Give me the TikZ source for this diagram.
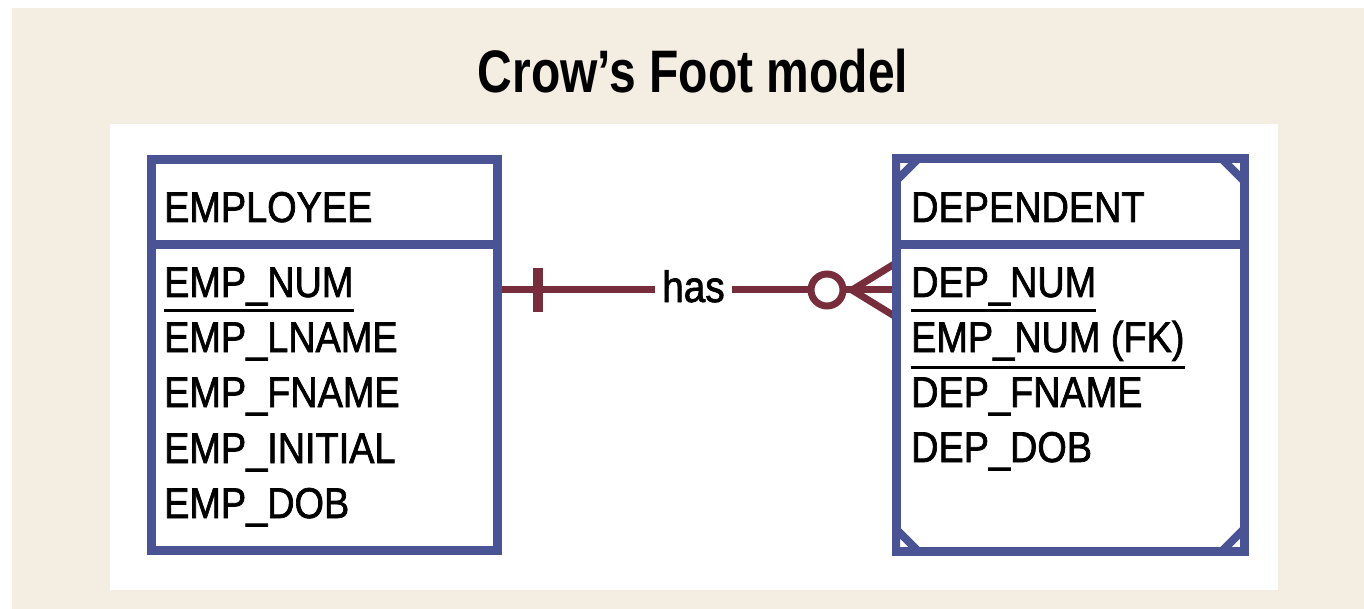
\documentclass[tikz,border=0pt]{standalone}
\usepackage{fontspec}
\setmainfont{Liberation Sans}
\newfontfamily\attrfont{Liberation Sans}[FakeStretch=0.88,FakeBold=1.6]
\newfontfamily\titlefont{Liberation Sans}[FakeStretch=0.8]
\usetikzlibrary{calc}
\definecolor{bgbeige}{HTML}{F4EDE2}
\definecolor{entblue}{HTML}{4A5494}
\definecolor{relred}{HTML}{782D3C}
\begin{document}
\begin{tikzpicture}[x=1pt,y=-1pt,
  entity/.style={draw=entblue, line width=9pt, fill=white, inner sep=0pt, outer sep=0pt},
  divider/.style={draw=entblue, line width=9pt},
  attr/.style={anchor=base west, inner sep=0pt, font=\attrfont\fontsize{43}{43}\selectfont, text=black},
  ul/.style={line width=3pt, black},
  rel/.style={draw=relred, line width=7pt},
  weakcorner/.style={draw=entblue, line width=8pt, fill=white, line join=bevel}
]
\useasboundingbox (0,0) rectangle (1364,609);
\fill[bgbeige] (12,8) rectangle (1364,609);
\fill[white] (110,124) rectangle (1278,590);
\node[font=\titlefont\bfseries\fontsize{60}{60}\selectfont, anchor=base, inner sep=0pt] (title) at (693,93) {Crow’s Foot model};

% relationship label
\node[font=\attrfont\fontsize{44}{44}\selectfont, inner xsep=7pt, inner ysep=0pt, text height=30pt, text depth=6pt, anchor=base] (has) at (693.5,302) {has};

% entity boxes
\node[entity, minimum width=346pt, minimum height=390pt] (emp) at (324,355) {};
\node[entity, minimum width=348pt, minimum height=392pt] (dep) at (1070,355) {};

% connectors
\draw[rel] (emp.east |- has.west) -- (has.west);
\draw[rel] (has.east) -- (dep.west |- has.east);
\coordinate (bar) at (538,290);
\draw[relred, line width=10pt] ($(bar)+(0,-22)$) -- ($(bar)+(0,22)$);
\node[circle, draw=relred, line width=7pt, fill=white, minimum size=32pt, inner sep=0pt] (opt) at (827,290) {};
\coordinate (foot) at (852,290);
\draw[rel] (foot) -- ($(dep.west |- has.east)+(0,-27)$);
\draw[rel] (foot) -- ($(dep.west |- has.east)+(0,27)$);

% redraw box borders on top
\draw[entblue, line width=9pt] (emp.north west) rectangle (emp.south east);
\draw[entblue, line width=9pt] (dep.north west) rectangle (dep.south east);
\coordinate (div) at (0,245);
\draw[divider] (emp.west |- div) -- (emp.east |- div);
\draw[divider] (dep.west |- div) -- (dep.east |- div);

% weak entity corners
\draw[weakcorner] (dep.north west) -- ++(22,0) -- ++(-22,22) -- cycle;
\draw[weakcorner] (dep.north east) -- ++(-22,0) -- ++(22,22) -- cycle;
\draw[weakcorner] (dep.south west) -- ++(22,0) -- ++(-22,-22) -- cycle;
\draw[weakcorner] (dep.south east) -- ++(-22,0) -- ++(22,-22) -- cycle;

% EMPLOYEE texts
\node[attr] (empname) at (164,222) {EMPLOYEE};
\node[attr] (empnum) at (164,297) {EMP\_NUM};
\node[attr] (emplname) at (164,352) {EMP\_LNAME};
\node[attr] (empfname) at (164,407) {EMP\_FNAME};
\node[attr] (empinit) at (164,463) {EMP\_INITIAL};
\node[attr] (empdob) at (164,518) {EMP\_DOB};
\draw[ul] ([yshift=-14pt]empnum.base west) -- ([yshift=-14pt]empnum.base east);

% DEPENDENT texts
\node[attr] (depname) at (911,222) {DEPENDENT};
\node[attr] (depnum) at (911,297) {DEP\_NUM};
\node[attr] (depemp) at (911,352) {EMP\_NUM (FK)};
\node[attr] (depfname) at (911,407) {DEP\_FNAME};
\node[attr] (depdob) at (911,462) {DEP\_DOB};
\draw[ul] ([yshift=-14pt]depnum.base west) -- ([yshift=-14pt]depnum.base east);
\draw[ul] ([yshift=-15pt]depemp.base west) -- ([yshift=-15pt]depemp.base east);
\end{tikzpicture}
\end{document}
